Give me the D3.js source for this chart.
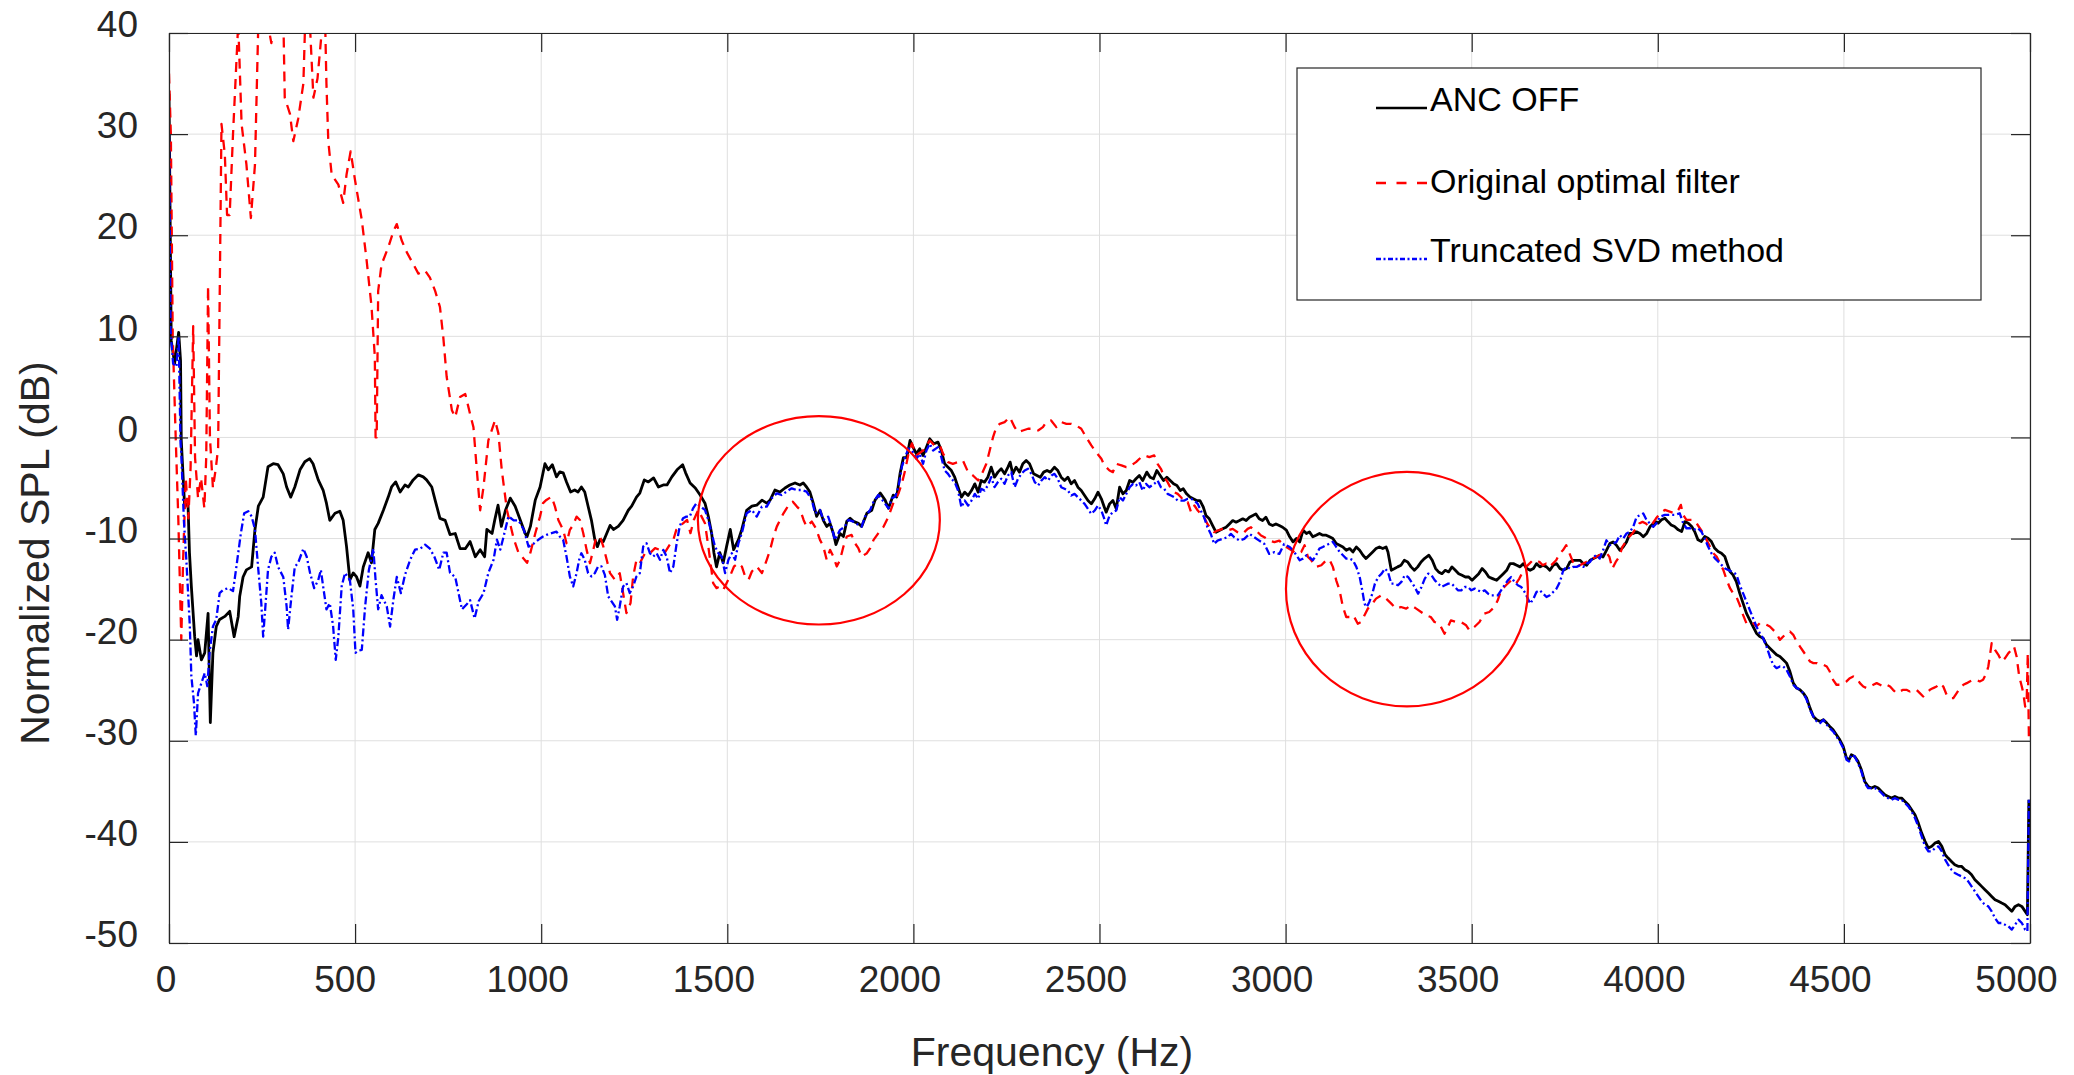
<!DOCTYPE html>
<html>
<head>
<meta charset="utf-8">
<script src="https://cdn.jsdelivr.net/npm/d3@7"></script>
<style>
body { margin: 0; background: #fff; }
svg text { font-family: "Liberation Sans", Arial, Helvetica, sans-serif; }
</style>
</head>
<body>
<svg id="chart" width="2074" height="1075"></svg>
<script>
var xTicks = [0, 500, 1000, 1500, 2000, 2500, 3000, 3500, 4000, 4500, 5000];
var yTicks = [-50, -40, -30, -20, -10, 0, 10, 20, 30, 40];
var seriesNames = ["ANC OFF", "Original optimal filter", "Truncated SVD method"];

// [frequency Hz, level dB]
var ancOff = [[0,34],[6,9.6],[15,7.3],[26,10.4],[31,7.6],[33,-0.3],[42,-6.8],[51,-6.5],[55,-11.4],[60,-14.7],[69,-19.7],[74,-21.6],[78,-20],[87,-22],[96,-21.3],[105,-17.4],[111,-28.2],[118,-21.3],[127,-18.7],[136,-18],[150,-17.7],[163,-17.2],[175,-19.7],[186,-17.7],[190,-15.7],[199,-13.8],[208,-13.1],[222,-12.8],[231,-9.1],[240,-6.8],[253,-5.9],[266,-2.9],[280,-2.6],[293,-2.7],[307,-3.6],[316,-4.9],[327,-5.9],[338,-4.9],[352,-3.2],[365,-2.4],[378,-2.1],[387,-2.6],[401,-4.2],[414,-5.2],[423,-6.5],[432,-8.2],[446,-7.5],[459,-7.3],[468,-8.2],[477,-10.8],[486,-14.1],[495,-13.4],[504,-13.8],[513,-14.7],[522,-12.8],[535,-11.4],[544,-12.4],[553,-9.1],[562,-8.5],[576,-7.2],[589,-5.9],[598,-4.9],[609,-4.4],[621,-5.4],[634,-4.7],[643,-4.9],[656,-4.2],[670,-3.7],[683,-3.9],[692,-4.2],[706,-4.9],[715,-6.2],[728,-8],[742,-8.2],[755,-9.6],[769,-9.5],[782,-11],[796,-11],[809,-10.3],[823,-11.8],[836,-11.1],[848,-11.8],[854,-9.1],[868,-9.5],[875,-8.2],[884,-6.7],[893,-8.8],[904,-7.2],[917,-6],[930,-6.8],[944,-8.2],[957,-9.5],[962,-9.8],[971,-8.8],[984,-6.2],[997,-4.9],
[1010,-2.6],[1019,-3.2],[1030,-2.7],[1041,-3.9],[1050,-3.4],[1059,-3.5],[1068,-4.4],[1079,-5.4],[1090,-5.2],[1099,-5.4],[1108,-4.9],[1117,-5.4],[1126,-6.8],[1135,-8.2],[1144,-10.1],[1151,-10.8],[1158,-10.1],[1167,-10.3],[1176,-9.5],[1185,-8.7],[1194,-9.1],[1207,-8.8],[1220,-8.2],[1234,-7.2],[1243,-6.8],[1256,-5.9],[1265,-5.5],[1277,-4.2],[1288,-4.4],[1302,-4],[1315,-4.9],[1328,-4.7],[1338,-4.7],[1351,-3.9],[1365,-3.2],[1380,-2.7],[1388,-3.5],[1400,-4.5],[1414,-5],[1427,-5.7],[1440,-6.5],[1449,-7.8],[1458,-9.5],[1464,-11.4],[1471,-12.8],[1480,-11.4],[1489,-12.4],[1498,-10.8],[1508,-9.1],[1517,-11.1],[1530,-10.1],[1539,-9.1],[1552,-7.2],[1566,-6.8],[1579,-6.7],[1593,-6.2],[1606,-6.5],[1615,-6.2],[1628,-5.2],[1641,-5.4],[1655,-5],[1668,-4.7],[1682,-4.5],[1695,-4.7],[1704,-4.5],[1713,-4.9],[1722,-5.4],[1731,-6.5],[1740,-7.8],[1749,-7.2],[1758,-8.2],[1767,-8.8],[1776,-8.5],[1785,-9.5],[1792,-10.6],[1803,-9.5],[1812,-9.8],[1821,-8.3],[1830,-8],[1839,-8.3],[1852,-8.5],[1861,-8.8],[1875,-7.5],[1888,-7.2],[1897,-6.2],[1911,-5.5],[1924,-6.2],[1933,-7],[1946,-5.7],[1955,-5.9],[1964,-3.6],[1973,-2],[1982,-2],[1991,-0.3],
[1999,-0.96],[2008,-1.62],[2017,-1.12],[2026,-1.78],[2035,-0.96],[2044,-0.13],[2055,-0.63],[2066,-0.46],[2075,-1.29],[2084,-2.6],[2093,-2.94],[2102,-3.27],[2111,-3.93],[2120,-4.92],[2129,-5.9],[2138,-5.41],[2147,-5.74],[2156,-5.25],[2165,-4.59],[2174,-5.41],[2182,-4.26],[2191,-4.42],[2200,-3.93],[2209,-2.94],[2218,-3.93],[2227,-3.43],[2236,-3.1],[2245,-3.6],[2254,-2.94],[2260,-2.44],[2267,-3.6],[2276,-2.94],[2285,-3.43],[2294,-2.6],[2303,-2.28],[2312,-2.6],[2323,-3.6],[2332,-3.76],[2341,-3.93],[2350,-3.43],[2359,-3.27],[2368,-3.43],[2379,-2.94],[2388,-3.27],[2397,-3.93],[2406,-4.26],[2415,-3.93],[2424,-4.59],[2433,-4.26],[2442,-4.92],[2451,-5.25],[2460,-5.74],[2469,-6.24],[2478,-6.57],[2487,-6.07],[2496,-5.41],[2505,-6.07],[2513,-6.9],[2518,-7.39],[2527,-6.57],[2536,-6.24],[2545,-7.06],[2554,-4.92],[2563,-5.58],[2572,-5.25],[2581,-4.26],[2590,-4.42],[2598,-4.09],[2607,-3.76],[2616,-4.26],[2627,-3.43],[2636,-3.93],[2645,-4.09],[2654,-3.27],[2663,-3.76],[2672,-4.26],[2681,-3.93],[2690,-4.26],[2699,-4.59],[2708,-4.75],[2717,-5.25],[2725,-5.08],[2734,-5.58],[2743,-5.9],[2752,-6.07],[2761,-6.24],[2770,-6.24],[2779,-6.9],[2786,-7.72],[2795,-8.05],[2804,-8.71],[2813,-9.37],[2822,-9.2],[2831,-9.04],[2840,-8.88],[2849,-8.55],[2858,-8.22],[2867,-8.38],[2876,-8.22],[2885,-8.05],[2894,-8.22],[2903,-7.89],[2912,-7.72],[2920,-7.56],[2929,-8.05],[2938,-8.22],[2947,-7.89],[2956,-8.55],[2965,-8.71],[2974,-8.55],[2983,-8.71],[2992,-8.88],
[3002,-9.17],[3011,-9.83],[3020,-10.33],[3029,-10],[3038,-10.33],[3047,-9.17],[3056,-9.5],[3064,-9.34],[3073,-9.83],[3082,-9.67],[3091,-9.5],[3100,-9.67],[3109,-9.67],[3118,-9.83],[3127,-10],[3136,-10.5],[3145,-10.66],[3154,-10.83],[3163,-11.16],[3172,-10.99],[3181,-11.32],[3190,-10.83],[3199,-11.16],[3208,-11.65],[3216,-11.98],[3225,-11.65],[3234,-11.32],[3243,-10.99],[3252,-10.83],[3261,-10.99],[3270,-10.83],[3275,-11.32],[3284,-13.14],[3293,-12.97],[3301,-12.8],[3310,-12.64],[3319,-12.15],[3328,-12.31],[3337,-12.8],[3346,-13.14],[3355,-12.8],[3364,-12.31],[3373,-11.98],[3385,-11.65],[3394,-12.15],[3403,-12.97],[3411,-13.3],[3420,-13.47],[3429,-13.14],[3438,-13.3],[3447,-12.8],[3456,-13.14],[3465,-13.47],[3474,-13.63],[3483,-13.8],[3492,-13.8],[3501,-14.13],[3510,-13.8],[3519,-13.47],[3528,-12.97],[3537,-13.3],[3546,-13.8],[3556,-13.96],[3567,-14.13],[3576,-13.8],[3585,-13.47],[3594,-13.14],[3603,-12.48],[3612,-12.48],[3621,-12.64],[3630,-12.8],[3639,-12.48],[3648,-12.97],[3657,-13.14],[3666,-12.97],[3674,-12.48],[3683,-12.8],[3692,-12.64],[3701,-12.8],[3710,-13.14],[3719,-12.64],[3728,-12.48],[3737,-12.97],[3746,-13.14],[3755,-12.97],[3764,-12.31],[3773,-12.15],[3782,-12.15],[3791,-12.15],[3800,-12.48],[3809,-12.64],[3818,-12.15],[3827,-11.98],[3835,-11.82],[3844,-11.65],[3853,-11.82],[3862,-11.16],[3871,-10.5],[3880,-10.33],[3889,-10.66],[3898,-11.16],[3907,-10.83],[3916,-10.33],[3925,-9.5],[3934,-9.5],[3943,-9.34],[3952,-9.5],[3961,-9.83],[3970,-9.5],[3979,-8.84],[3988,-8.51],[3996,-8.35],
[4001,-8.48],[4010,-8.15],[4019,-7.99],[4027,-8.32],[4036,-8.65],[4045,-8.81],[4055,-9.14],[4064,-9.31],[4073,-8.32],[4082,-8.48],[4091,-8.81],[4099,-9.31],[4108,-10.13],[4117,-10.3],[4126,-9.8],[4135,-9.97],[4144,-10.3],[4153,-10.96],[4162,-11.29],[4171,-11.45],[4180,-11.78],[4186,-12.44],[4194,-13.26],[4202,-13.59],[4211,-14.25],[4220,-15.4],[4229,-16.39],[4238,-17.38],[4247,-18.04],[4256,-18.7],[4265,-19.36],[4274,-19.69],[4283,-19.85],[4292,-20.51],[4301,-20.84],[4310,-21.17],[4319,-21.5],[4328,-21.66],[4337,-21.99],[4346,-22.32],[4355,-23.15],[4364,-24.3],[4373,-24.79],[4382,-24.96],[4391,-25.29],[4400,-25.78],[4409,-26.77],[4418,-27.59],[4427,-27.92],[4436,-28.09],[4445,-27.92],[4454,-28.25],[4462,-28.58],[4471,-28.91],[4480,-29.41],[4489,-29.9],[4498,-30.56],[4507,-31.71],[4514,-31.88],[4520,-31.38],[4529,-31.55],[4538,-32.04],[4547,-32.87],[4556,-34.02],[4565,-34.51],[4574,-34.68],[4583,-34.51],[4592,-34.68],[4601,-35.01],[4610,-35.34],[4619,-35.5],[4628,-35.67],[4637,-35.5],[4646,-35.67],[4655,-35.67],[4664,-36],[4673,-36.33],[4682,-36.82],[4691,-37.31],[4700,-38.14],[4709,-39.13],[4718,-39.95],[4727,-40.61],[4736,-40.44],[4745,-40.12],[4754,-39.95],[4763,-40.44],[4772,-41.27],[4780,-41.6],[4789,-41.93],[4798,-42.26],[4807,-42.42],[4816,-42.42],[4825,-42.75],[4834,-42.92],[4843,-43.25],[4852,-43.74],[4861,-44.07],[4870,-44.4],[4879,-44.73],[4888,-45.06],[4897,-45.39],[4906,-45.72],[4915,-45.88],[4924,-46.05],[4933,-46.21],[4942,-46.54],[4951,-46.87],[4960,-46.38],[4969,-46.21],[4978,-46.38],[4987,-46.87],[4993,-47.2],[4997,-35.83]];

var originalFilter = [[0,36],[5,30],[10,10],[18,0],[25,-8],[33,-20],[38,-12],[45,-4],[52,-8],[58,-3],[65,11],[70,-2],[78,-6],[86,-4],[95,-7],[100,-2],[105,15],[110,0],[118,-5],[126,-3],[132,-1],[141,31],[150,28],[156,22],[163,22],[172,30],[186,41],[195,31],[208,27],[220,21.7],[231,27],[240,41],[260,42],[275,39],[290,43],[307,42],[311,33.6],[325,32],[334,29.3],[347,31.5],[361,35],[365,40],[379,40.5],[388,33.6],[399,35.5],[410,40],[419,42],[423,35],[428,29.3],[437,26],[455,25],[468,23.2],[477,26],[488,28.3],[500,25.4],[518,21.5],[531,17.5],[544,13],[553,8],[555,0],[558,0],[562,14.5],[571,17.1],[589,18.8],[603,20.4],[612,21.1],[625,19.5],[639,18.3],[657,17.1],[670,16.2],[688,16.5],[701,15.8],[715,14.5],[728,12.9],[737,9.9],[746,6],[760,2.7],[769,2],[782,4],[796,4.3],[809,2.3],[818,1],[827,-3.2],[836,-7.2],[845,-4.9],[858,-0.3],[876,1.7],[885,0.4],[894,-3.2],[908,-7.2],[926,-10],[939,-11.4],[953,-12],[962,-12.4],[971,-11.4],[984,-9.5],[997,-7.8],
[1005,-6.5],[1014,-6.18],[1028,-5.86],[1037,-6.84],[1046,-8.16],[1059,-9.14],[1068,-10.46],[1077,-9.14],[1086,-8.65],[1095,-7.83],[1104,-8.16],[1113,-9.47],[1122,-11.12],[1131,-12.43],[1140,-11.12],[1147,-9.97],[1158,-9.8],[1167,-10.79],[1176,-12.1],[1185,-13.42],[1198,-14.08],[1211,-13.42],[1220,-15.39],[1229,-17.37],[1240,-16.38],[1247,-13.75],[1256,-12.1],[1265,-12.43],[1279,-11.45],[1292,-11.45],[1306,-10.95],[1319,-11.12],[1331,-11.45],[1345,-10.63],[1355,-10.13],[1363,-9.14],[1372,-8.82],[1381,-8.49],[1392,-8.16],[1401,-9.47],[1410,-8.16],[1422,-7.17],[1431,-7.83],[1440,-8.49],[1449,-10.79],[1455,-12.43],[1462,-14.41],[1471,-14.9],[1480,-14.74],[1489,-15.07],[1498,-14.41],[1507,-13.75],[1518,-12.76],[1530,-12.43],[1539,-12.76],[1548,-13.75],[1557,-14.08],[1566,-13.26],[1579,-12.76],[1593,-13.42],[1606,-12.1],[1615,-11.12],[1624,-9.8],[1633,-8.82],[1642,-8.16],[1651,-7.5],[1665,-6.68],[1676,-6.35],[1687,-6.84],[1696,-7.17],[1705,-8.16],[1713,-8.82],[1727,-8.32],[1738,-8.98],[1749,-10.13],[1758,-10.79],[1767,-12.1],[1776,-11.12],[1785,-11.78],[1794,-12.76],[1803,-12.1],[1812,-10.79],[1821,-9.8],[1834,-9.64],[1843,-10.46],[1852,-10.95],[1861,-11.78],[1875,-11.45],[1884,-10.95],[1893,-10.13],[1906,-9.47],[1920,-8.82],[1933,-7.83],[1946,-6.5],[1960,-5.53],[1969,-4.54],[1978,-3.22],[1987,-1.58],[1996,-0.59],
[2008,-1.78],[2026,-1.29],[2044,-0.3],[2057,-0.79],[2071,-0.79],[2080,-1.62],[2093,-2.44],[2106,-2.61],[2120,-2.44],[2133,-2.28],[2147,-3.43],[2160,-3.76],[2174,-4.26],[2182,-3.76],[2196,-2.61],[2205,-1.29],[2214,0.03],[2223,1.02],[2232,1.35],[2245,1.52],[2259,2.01],[2272,1.02],[2281,0.53],[2294,0.69],[2308,0.86],[2321,0.86],[2335,0.69],[2348,1.02],[2357,1.52],[2370,1.68],[2384,1.02],[2397,1.52],[2411,1.35],[2424,1.35],[2437,1.19],[2451,0.86],[2464,0.03],[2478,-0.79],[2491,-1.45],[2505,-2.11],[2513,-2.77],[2527,-3.27],[2536,-3.43],[2545,-2.61],[2559,-2.77],[2572,-2.94],[2585,-2.77],[2598,-2.44],[2612,-1.95],[2621,-1.78],[2634,-1.95],[2647,-1.78],[2656,-2.61],[2665,-3.1],[2674,-3.93],[2683,-4.42],[2692,-5.08],[2701,-5.41],[2710,-5.58],[2719,-5.91],[2728,-6.4],[2737,-6.4],[2746,-7.39],[2755,-6.73],[2764,-7.23],[2772,-7.56],[2781,-7.89],[2790,-8.55],[2799,-9.04],[2808,-9.37],[2817,-9.21],[2831,-9.04],[2844,-9.21],[2858,-9.04],[2871,-9.37],[2880,-9.54],[2889,-9.37],[2898,-9.04],[2907,-8.88],[2916,-9.21],[2925,-9.37],[2934,-9.7],[2943,-9.87],[2956,-10.2],[2970,-10.36],[2983,-10.2],[2996,-10.69],
[3002,-10.83],[3016,-11.16],[3029,-11.49],[3042,-11.32],[3051,-10.66],[3060,-11.82],[3069,-12.15],[3082,-12.8],[3096,-12.64],[3109,-12.15],[3118,-12.08],[3127,-12.8],[3136,-14.13],[3145,-15.12],[3154,-16.77],[3163,-17.76],[3172,-17.76],[3182,-17.59],[3194,-18.42],[3203,-18.25],[3212,-17.59],[3221,-16.93],[3233,-16.44],[3243,-15.94],[3257,-15.61],[3270,-15.94],[3284,-16.44],[3297,-16.93],[3310,-16.77],[3324,-16.93],[3337,-16.6],[3351,-16.93],[3364,-17.26],[3377,-17.59],[3390,-17.76],[3400,-18.25],[3413,-18.42],[3427,-19.41],[3436,-18.75],[3444,-18.09],[3458,-18.25],[3471,-18.25],[3485,-18.58],[3494,-19.08],[3507,-18.75],[3521,-18.25],[3534,-17.43],[3547,-17.26],[3561,-16.77],[3570,-16.11],[3579,-15.12],[3592,-14.62],[3606,-14.13],[3619,-14.46],[3628,-13.96],[3637,-13.3],[3646,-12.8],[3655,-12.48],[3664,-12.15],[3673,-12.15],[3682,-12.31],[3691,-12.64],[3700,-12.48],[3709,-12.8],[3718,-12.48],[3727,-12.15],[3736,-11.49],[3745,-11.16],[3754,-10.66],[3763,-11.49],[3772,-12.31],[3781,-12.8],[3790,-12.64],[3799,-12.48],[3808,-12.31],[3817,-12.15],[3825,-11.98],[3834,-11.82],[3843,-11.65],[3852,-11.49],[3861,-11.32],[3870,-11.82],[3878,-12.97],[3887,-12.31],[3896,-11.82],[3905,-10.83],[3914,-10.33],[3923,-9.83],[3932,-9.5],[3941,-9.01],[3950,-8.51],[3959,-8.35],[3968,-8.51],[3977,-8.84],[3986,-8.51],[3995,-8.02],
[4006,-7.5],[4019,-7.17],[4032,-7.33],[4045,-7.5],[4055,-7.17],[4062,-6.67],[4068,-7.66],[4077,-8.15],[4086,-8.15],[4095,-8.15],[4104,-8.48],[4113,-8.98],[4122,-9.47],[4131,-10.13],[4140,-10.79],[4149,-11.45],[4158,-11.78],[4167,-12.44],[4176,-13.1],[4185,-14.09],[4194,-14.91],[4202,-15.4],[4211,-15.73],[4220,-16.56],[4229,-17.55],[4238,-18.37],[4247,-18.2],[4256,-18.37],[4265,-18.7],[4274,-18.37],[4283,-18.37],[4292,-18.53],[4301,-18.7],[4310,-19.03],[4319,-19.36],[4328,-20.02],[4337,-19.69],[4346,-19.36],[4355,-19.19],[4364,-19.52],[4373,-20.18],[4382,-20.68],[4391,-21.17],[4400,-21.66],[4409,-22.16],[4418,-22.32],[4427,-22.32],[4436,-22.49],[4445,-22.49],[4454,-22.65],[4462,-23.15],[4471,-23.97],[4480,-24.46],[4489,-24.46],[4498,-24.3],[4507,-24.13],[4516,-23.81],[4525,-23.64],[4534,-23.81],[4543,-24.3],[4552,-24.63],[4561,-24.79],[4570,-24.63],[4579,-24.46],[4588,-24.3],[4597,-24.46],[4606,-24.63],[4615,-24.46],[4624,-24.63],[4632,-24.96],[4641,-25.29],[4650,-25.12],[4659,-24.96],[4668,-24.96],[4677,-25.12],[4686,-24.96],[4695,-24.96],[4704,-25.29],[4713,-25.62],[4722,-25.29],[4731,-24.96],[4740,-24.79],[4749,-24.63],[4758,-24.3],[4767,-24.63],[4776,-25.45],[4785,-25.78],[4794,-25.78],[4803,-25.29],[4812,-24.79],[4821,-24.46],[4830,-24.3],[4838,-24.13],[4847,-23.97],[4856,-23.97],[4865,-24.13],[4874,-23.97],[4883,-23.31],[4888,-22.65],[4892,-21.66],[4897,-20.35],[4906,-21],[4915,-21.5],[4924,-22.16],[4933,-21.83],[4942,-21.33],[4951,-21],[4957,-20.68],[4964,-21.66],[4971,-23.64],[4978,-24.63],[4982,-25.29],[4987,-26.61],[4991,-26.28],[4994,-21.33],[4997,-29.57]];

var truncatedSvd = [[0,30],[4,10.6],[11,7.3],[20,7],[26,10],[31,-0.6],[33,-1.6],[40,-8.2],[47,-12.4],[56,-18.7],[60,-23.6],[67,-26.2],[72,-29.5],[78,-25.3],[87,-24.3],[96,-23.3],[103,-24.6],[109,-21.3],[118,-18.7],[127,-18],[136,-15.4],[145,-15.1],[159,-14.9],[172,-15.2],[181,-12.8],[193,-9.5],[202,-7.5],[213,-7.3],[222,-7.8],[231,-9.1],[240,-13.1],[248,-16.4],[253,-19.7],[259,-16.7],[266,-13.1],[275,-11.8],[284,-11.4],[293,-12.8],[307,-13.8],[316,-16.7],[320,-19],[329,-15.7],[338,-12.8],[347,-12.4],[361,-11],[370,-11.8],[379,-13.4],[390,-14.9],[401,-14.1],[408,-13.1],[414,-14.7],[423,-17],[432,-16.4],[441,-18.7],[448,-22],[455,-19.7],[464,-14.7],[473,-13.4],[486,-14.1],[495,-17],[501,-21.3],[509,-21.1],[518,-21],[527,-16.7],[537,-13.1],[549,-11],[555,-14.1],[562,-17],[571,-15.6],[585,-16.7],[594,-18.7],[603,-16],[612,-13.8],[623,-15.4],[634,-13.6],[648,-12.1],[661,-11.1],[675,-11],[688,-10.6],[701,-11],[713,-11.8],[726,-13.1],[737,-11.4],[746,-11.4],[755,-13.4],[769,-13.8],[778,-15.4],[787,-17],[800,-16.5],[809,-16.1],[821,-17.9],[832,-16.2],[845,-15.4],[858,-13.4],[872,-12.1],[881,-10.1],[890,-11.1],[899,-9.8],[912,-7.8],[926,-8.2],[939,-8.2],[953,-9.1],[966,-10.8],[980,-10.5],[993,-10.1],
[1005,-9.8],[1014,-9.64],[1028,-9.47],[1041,-9.31],[1050,-9.8],[1059,-10.13],[1068,-11.78],[1077,-13.75],[1086,-14.74],[1095,-13.42],[1102,-12.1],[1108,-11.45],[1117,-12.1],[1126,-13.42],[1135,-13.75],[1144,-13.42],[1153,-12.76],[1162,-12.76],[1171,-13.59],[1180,-15.72],[1189,-16.22],[1198,-16.71],[1204,-18.03],[1211,-16.71],[1220,-14.74],[1229,-14.41],[1238,-15.39],[1247,-14.74],[1256,-13.75],[1265,-13.42],[1274,-10.79],[1283,-10.46],[1292,-11.45],[1301,-11.78],[1310,-11.45],[1319,-12.1],[1328,-11.12],[1337,-11.78],[1346,-13.42],[1355,-12.76],[1364,-10.46],[1372,-8.82],[1381,-7.99],[1390,-7.83],[1399,-7.83],[1408,-7.01],[1417,-6.51],[1428,-6.84],[1440,-7.17],[1449,-8.16],[1458,-9.47],[1467,-10.79],[1476,-11.45],[1485,-11.78],[1494,-13.42],[1503,-12.1],[1512,-11.45],[1521,-12.1],[1530,-10.46],[1539,-9.47],[1552,-7.5],[1566,-7.17],[1579,-7.83],[1593,-6.84],[1606,-6.84],[1619,-6.02],[1633,-5.53],[1646,-5.69],[1659,-5.36],[1673,-5.03],[1686,-5.2],[1700,-5.2],[1713,-5.36],[1727,-6.18],[1736,-7.5],[1749,-7.17],[1758,-8.16],[1771,-7.83],[1780,-8.82],[1789,-10.13],[1803,-9.14],[1816,-8.82],[1825,-8.16],[1839,-8.32],[1852,-8.65],[1861,-8.82],[1870,-7.83],[1884,-7.17],[1893,-6.35],[1906,-5.69],[1920,-6.35],[1933,-7.01],[1942,-6.02],[1951,-5.86],[1960,-4.87],[1969,-2.89],[1978,-1.9],[1987,-1.09],[1996,-1.25],
[2008,-2.11],[2017,-1.62],[2026,-2.61],[2035,-1.29],[2044,-0.63],[2053,-1.29],[2066,-0.96],[2075,-1.95],[2084,-3.27],[2093,-3.6],[2102,-4.09],[2111,-4.42],[2120,-5.25],[2129,-6.9],[2138,-6.24],[2147,-6.73],[2156,-6.24],[2165,-5.58],[2174,-6.07],[2182,-5.08],[2191,-5.25],[2200,-4.75],[2209,-3.93],[2218,-4.92],[2227,-4.42],[2236,-4.09],[2245,-4.59],[2254,-3.76],[2263,-3.43],[2272,-4.92],[2281,-4.09],[2290,-3.6],[2299,-3.27],[2308,-3.1],[2317,-3.6],[2326,-4.42],[2335,-4.75],[2344,-4.26],[2353,-3.93],[2362,-4.26],[2371,-3.76],[2379,-3.6],[2388,-4.09],[2397,-4.92],[2406,-5.08],[2415,-5.25],[2424,-5.74],[2433,-5.58],[2442,-5.91],[2451,-6.24],[2460,-6.57],[2469,-7.06],[2478,-7.56],[2487,-7.23],[2496,-6.73],[2505,-7.23],[2513,-8.05],[2518,-8.71],[2527,-7.72],[2536,-7.39],[2545,-7.23],[2554,-5.91],[2563,-6.24],[2572,-5.58],[2581,-4.92],[2590,-4.59],[2598,-4.75],[2607,-4.42],[2616,-5.25],[2625,-4.59],[2634,-4.92],[2647,-4.59],[2656,-4.26],[2665,-4.92],[2674,-5.08],[2683,-5.58],[2692,-5.74],[2701,-5.91],[2710,-6.24],[2719,-6.24],[2728,-6.24],[2737,-6.07],[2746,-6.07],[2755,-6.24],[2764,-6.57],[2772,-7.23],[2781,-7.89],[2790,-8.88],[2799,-9.54],[2808,-10.53],[2817,-10.2],[2831,-10.03],[2844,-9.87],[2853,-9.54],[2862,-9.87],[2876,-10.2],[2889,-10.03],[2903,-9.54],[2916,-9.87],[2929,-10.2],[2943,-10.53],[2956,-11.52],[2970,-11.35],[2983,-11.52],[2996,-10.53],
[3002,-10.66],[3011,-10.83],[3020,-11.16],[3029,-11.65],[3038,-12.15],[3047,-11.98],[3056,-11.65],[3064,-11.82],[3073,-12.15],[3082,-11.65],[3091,-10.99],[3100,-10.83],[3109,-10.66],[3118,-10.5],[3127,-10.33],[3136,-10.83],[3145,-11.32],[3154,-11.65],[3163,-11.98],[3172,-11.98],[3181,-12.15],[3190,-12.8],[3199,-13.8],[3206,-15.12],[3212,-16.44],[3218,-16.77],[3225,-16.27],[3233,-15.45],[3240,-14.46],[3249,-13.8],[3258,-13.47],[3267,-12.97],[3275,-13.3],[3284,-14.46],[3293,-14.46],[3302,-14.62],[3311,-14.29],[3320,-13.63],[3329,-13.8],[3338,-14.29],[3347,-14.79],[3356,-15.45],[3365,-14.79],[3374,-13.96],[3383,-13.47],[3392,-13.63],[3401,-14.13],[3410,-14.46],[3419,-14.79],[3428,-14.62],[3437,-14.46],[3446,-14.46],[3455,-14.79],[3463,-15.12],[3472,-15.12],[3481,-14.79],[3490,-14.79],[3499,-15.12],[3508,-14.95],[3517,-15.12],[3526,-15.28],[3535,-15.12],[3544,-15.45],[3553,-15.61],[3562,-15.61],[3570,-15.61],[3579,-15.12],[3588,-14.62],[3597,-14.13],[3606,-13.8],[3615,-14.29],[3624,-14.62],[3633,-14.79],[3642,-15.28],[3651,-15.94],[3657,-16.44],[3666,-15.94],[3674,-15.28],[3683,-15.12],[3692,-15.45],[3701,-15.78],[3710,-15.61],[3719,-15.28],[3728,-14.95],[3737,-14.29],[3746,-13.14],[3755,-12.8],[3764,-12.97],[3773,-12.8],[3782,-12.8],[3791,-12.64],[3800,-12.8],[3809,-12.48],[3818,-12.31],[3827,-11.82],[3835,-11.65],[3844,-11.98],[3853,-11.16],[3862,-10.17],[3871,-10.66],[3880,-10.5],[3889,-10.33],[3898,-9.67],[3907,-10],[3916,-9.5],[3925,-9.34],[3934,-8.84],[3943,-7.85],[3952,-7.69],[3961,-7.52],[3970,-8.18],[3979,-8.51],[3988,-8.84],[3996,-8.51],
[4006,-7.83],[4019,-7.66],[4032,-7.66],[4045,-7.66],[4059,-7.5],[4068,-8.48],[4077,-8.98],[4086,-8.98],[4095,-9.14],[4108,-8.98],[4117,-9.31],[4126,-9.97],[4135,-10.79],[4144,-11.45],[4153,-11.94],[4162,-12.27],[4171,-12.6],[4180,-12.93],[4189,-13.1],[4198,-13.26],[4207,-13.43],[4213,-13.76],[4220,-14.58],[4229,-15.4],[4238,-16.23],[4247,-17.05],[4256,-17.87],[4265,-18.7],[4274,-19.36],[4283,-19.85],[4292,-20.68],[4301,-21.66],[4310,-22.49],[4319,-22.82],[4328,-22.65],[4337,-22.65],[4346,-22.98],[4355,-23.64],[4364,-24.46],[4373,-24.79],[4382,-24.96],[4391,-25.29],[4400,-25.95],[4409,-26.94],[4418,-27.59],[4427,-28.09],[4436,-28.25],[4445,-27.92],[4454,-28.42],[4462,-28.75],[4471,-29.08],[4480,-29.57],[4489,-30.07],[4498,-30.72],[4507,-31.88],[4514,-32.04],[4520,-31.38],[4529,-31.55],[4538,-32.21],[4547,-33.03],[4556,-34.18],[4565,-34.68],[4574,-34.68],[4583,-34.68],[4592,-34.84],[4601,-35.17],[4610,-35.5],[4619,-35.67],[4628,-35.83],[4637,-35.67],[4646,-35.83],[4655,-35.83],[4664,-36.16],[4673,-36.49],[4682,-36.99],[4691,-37.64],[4700,-38.47],[4709,-39.46],[4718,-40.44],[4727,-40.94],[4736,-40.94],[4745,-40.61],[4754,-40.44],[4763,-40.94],[4772,-41.76],[4780,-42.26],[4789,-42.75],[4798,-43.08],[4807,-43.25],[4816,-43.41],[4825,-43.58],[4834,-43.91],[4843,-44.4],[4852,-44.89],[4861,-45.39],[4870,-45.88],[4879,-46.21],[4888,-46.38],[4897,-46.87],[4906,-47.53],[4915,-48.02],[4924,-48.02],[4933,-48.19],[4942,-48.35],[4951,-48.68],[4960,-48.19],[4969,-47.69],[4978,-48.02],[4987,-48.68],[4993,-48.85],[4997,-35.83]];

// annotation ellipses: [centre Hz, centre dB, radius Hz, radius dB]
var highlights = [[1746, -8.2, 325, 10.3], [3326, -15.0, 325, 11.6]];

var plotLeft = 169, plotRight = 2030, plotTop = 33, plotBottom = 943;
var axisColor = "#262626";

var svg = d3.select("#chart");
var x = d3.scaleLinear().domain([0, 5000]).range([plotLeft, plotRight]);
var y = d3.scaleLinear().domain([-50, 40]).range([plotBottom, plotTop]);

// grid
var grid = svg.append("g");
grid.selectAll("line.gx").data(xTicks).enter().append("line")
    .attr("x1", function(d) { return x(d); }).attr("x2", function(d) { return x(d); })
    .attr("y1", plotTop).attr("y2", plotBottom)
    .attr("stroke", "#dfdfdf").attr("stroke-width", 1);
grid.selectAll("line.gy").data(yTicks).enter().append("line")
    .attr("x1", plotLeft).attr("x2", plotRight)
    .attr("y1", function(d) { return y(d); }).attr("y2", function(d) { return y(d); })
    .attr("stroke", "#dfdfdf").attr("stroke-width", 1);

// lines
svg.append("clipPath").attr("id", "plotclip").append("rect")
    .attr("x", plotLeft).attr("y", plotTop)
    .attr("width", plotRight - plotLeft).attr("height", plotBottom - plotTop);

var line = d3.line()
    .x(function(d) { return x(d[0]); })
    .y(function(d) { return y(d[1]); });

var series = [
    {data: ancOff, color: "#000000", width: 2.8, dash: null},
    {data: originalFilter, color: "#ff0000", width: 2.3, dash: "10,7"},
    {data: truncatedSvd, color: "#0000ff", width: 2.3, dash: "8,3,2,3"}
];

var plot = svg.append("g").attr("clip-path", "url(#plotclip)");
plot.selectAll("path.series").data(series).enter().append("path")
    .attr("class", "series")
    .attr("d", function(s) { return line(s.data); })
    .attr("fill", "none")
    .attr("stroke", function(s) { return s.color; })
    .attr("stroke-width", function(s) { return s.width; })
    .attr("stroke-dasharray", function(s) { return s.dash; })
    .attr("stroke-linejoin", "round");

// red circles
svg.selectAll("ellipse.mark").data(highlights).enter().append("ellipse")
    .attr("class", "mark")
    .attr("cx", function(d) { return x(d[0]); })
    .attr("cy", function(d) { return y(d[1]); })
    .attr("rx", function(d) { return x(d[2]) - x(0); })
    .attr("ry", function(d) { return y(0) - y(d[3]); })
    .attr("fill", "none").attr("stroke", "#ff0000").attr("stroke-width", 2.2);

// axes, ticks inside like matlab
function styleAxis(g) {
    g.attr("font-size", null).attr("font-family", null);
    g.select(".domain").attr("stroke", axisColor).attr("stroke-width", 1.2);
    g.selectAll(".tick line").attr("stroke", axisColor).attr("stroke-width", 1.2);
    g.selectAll(".tick text").attr("fill", axisColor).style("font-size", "37px");
}
var plainNumber = function(d) { return String(d); };

svg.append("g").attr("transform", "translate(0," + plotBottom + ")")
    .call(d3.axisBottom(x).tickValues(xTicks).tickFormat(plainNumber)
        .tickSizeInner(-19).tickSizeOuter(0).tickPadding(22.5))
    .call(styleAxis)
    .selectAll(".tick text").attr("dx", function(d) { return -3.5 * String(d).length; });
svg.append("g").attr("transform", "translate(0," + plotTop + ")")
    .call(d3.axisTop(x).tickValues(xTicks).tickSizeInner(-19).tickSizeOuter(0).tickFormat(""))
    .call(styleAxis);
svg.append("g").attr("transform", "translate(" + plotLeft + ",0)")
    .call(d3.axisLeft(y).tickValues(yTicks).tickFormat(plainNumber)
        .tickSizeInner(-19).tickSizeOuter(0).tickPadding(31))
    .call(styleAxis)
    .selectAll(".tick text").attr("dy", "0.1em");
svg.append("g").attr("transform", "translate(" + plotRight + ",0)")
    .call(d3.axisRight(y).tickValues(yTicks).tickSizeInner(-19).tickSizeOuter(0).tickFormat(""))
    .call(styleAxis);

// axis titles
svg.append("text").attr("x", 1052).attr("y", 1066)
    .attr("text-anchor", "middle").attr("fill", axisColor).style("font-size", "41px")
    .text("Frequency (Hz)");
svg.append("text").attr("transform", "translate(49,553) rotate(-90)")
    .attr("text-anchor", "middle").attr("fill", axisColor).style("font-size", "41px")
    .text("Normalized SPL (dB)");

// legend
var legend = svg.append("g");
legend.append("rect").attr("x", 1297).attr("y", 68).attr("width", 684).attr("height", 232)
    .attr("fill", "#fff").attr("stroke", axisColor).attr("stroke-width", 1.2);

var legendRows = [
    {lineY: 108, textY: 111, dash: null, width: 2.6},
    {lineY: 183, textY: 193, dash: "10,10.5", width: 2.4},
    {lineY: 259, textY: 262, dash: "5,2.5,2,2.5", width: 2.6}
];
legend.selectAll("line.key").data(series).enter().append("line")
    .attr("class", "key")
    .attr("x1", 1376).attr("x2", 1427)
    .attr("y1", function(s, i) { return legendRows[i].lineY; })
    .attr("y2", function(s, i) { return legendRows[i].lineY; })
    .attr("stroke", function(s) { return s.color; })
    .attr("stroke-width", function(s, i) { return legendRows[i].width; })
    .attr("stroke-dasharray", function(s, i) { return legendRows[i].dash; });
legend.selectAll("text.key").data(seriesNames).enter().append("text")
    .attr("class", "key")
    .attr("x", 1430)
    .attr("y", function(d, i) { return legendRows[i].textY; })
    .attr("fill", "#000").style("font-size", "34px")
    .text(function(d) { return d; });
</script>
</body>
</html>
